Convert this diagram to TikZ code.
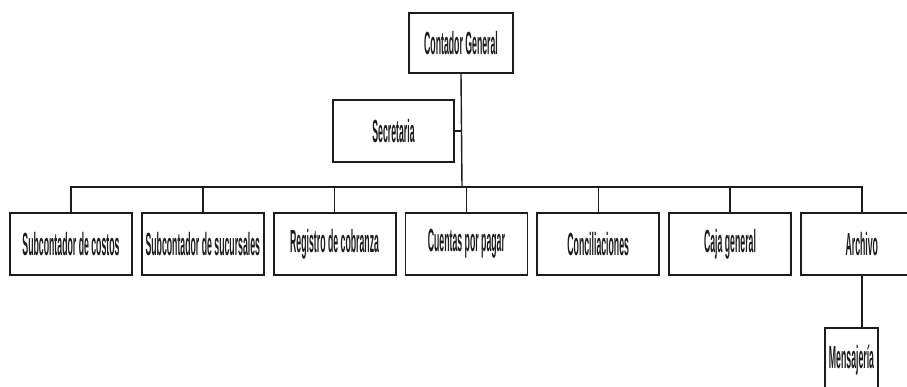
\documentclass[tikz,border=0pt]{standalone}
\usepackage{fontspec}
\setmainfont{Liberation Sans}
\newfontfamily\orgfont{Liberation Sans}[FakeStretch=0.273]
\usepackage{tikz}
\usetikzlibrary{positioning, calc}
\definecolor{inkblack}{RGB}{28, 28, 28}
\tikzset{
  orgline/.style={line width=1.4pt, draw=inkblack},
}

\begin{document}
\begin{tikzpicture}[
    x=1pt, y=-1pt,
    unit/.style={rectangle, draw=inkblack, line width=1.8pt, fill=white, minimum width=122pt, minimum height=62pt, inner sep=0pt, align=center, font=\orgfont\bfseries\fontsize{32}{36}\selectfont, text=inkblack},
    chief/.style={unit, minimum width=104pt, minimum height=60pt}
]
    \useasboundingbox (0, 0) rectangle (907, 386);

    % Top of the chart
    \node[chief] (cg) at (461, 43) {Contador General};
    \node[unit, minimum width=121pt] (sec) at (393.5, 131) {Secretaria};
    \coordinate (bus) at (462, 187);

    % Departments
    \node[unit] (costos) at (71, 244) {Subcontador de costos};
    \node[unit, right=8pt of costos] (sucursales) {Subcontador de sucursales};
    \node[unit, right=8pt of sucursales] (cobranza) {Registro de cobranza};
    \node[unit, right=8pt of cobranza] (cuentas) {Cuentas por pagar};
    \node[unit, right=8pt of cuentas] (concil) {Conciliaciones};
    \node[unit, right=8pt of concil] (caja) {Caja general};
    \node[unit, right=8pt of caja] (archivo) {Archivo};
    \node[unit, minimum width=53pt, minimum height=64pt] (mensaj) at (851.5, 360) {Mensajer\'ia};

    % Connectors
    \draw[orgline] (cg.south) -- (bus);
    \draw[orgline] (sec.east) -- (sec.east -| bus);
    \draw[orgline] (costos.north) |- (bus) -| (archivo.north);
    \foreach \dep in {sucursales, cobranza, cuentas, concil, caja}
        \draw[orgline] (\dep.north) -- (\dep.north |- bus);
    \draw[orgline] (archivo.south) -- (archivo.south |- mensaj.north);
\end{tikzpicture}
\end{document}
